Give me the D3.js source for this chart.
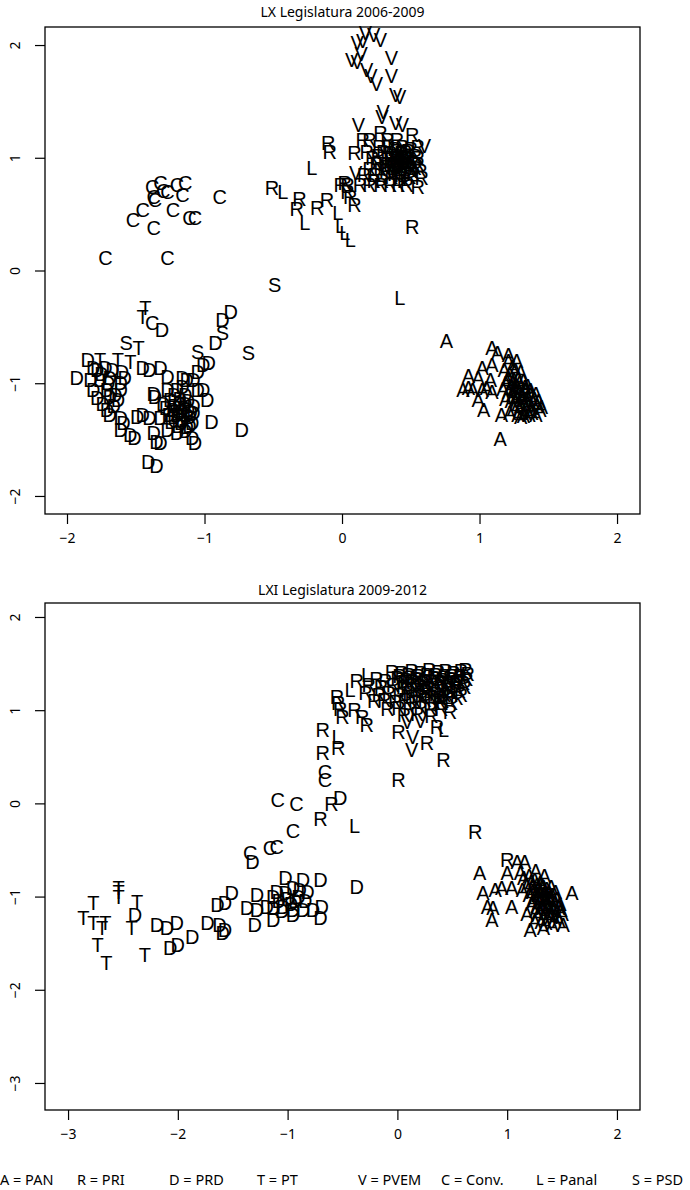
<!DOCTYPE html>
<html>
<head>
<meta charset="utf-8">
<script src="https://cdn.jsdelivr.net/npm/d3@7"></script>
<style>
    body { margin: 0; background: #fff; }
    svg { display: block; }
    .tick text { font-family: "Noto Sans", sans-serif; font-size: 14px; fill: #000; }
    .tick line { stroke: #000; stroke-width: 1.2; }
    .pt { font-family: "Liberation Sans", Arial, sans-serif; font-size: 20px; fill: #000; }
    .title { font-family: "Noto Sans", sans-serif; font-size: 14px; fill: #000; }
    .legend { font-family: "Noto Sans", sans-serif; font-size: 14.5px; fill: #000; }
</style>
</head>
<body>
<svg id="chart" width="690" height="1190"></svg>
<script>
// ---- LX Legislatura 2006-2009 (ideal points, one letter per deputy) ----
const lx_V = [[0.17,2.11],[0.15,2.04],[0.23,2.09],[0.28,2.05],[0.11,2.02],[0.14,1.92],[0.07,1.87],[0.11,1.85],
    [0.36,1.89],[0.18,1.78],[0.21,1.73],[0.36,1.73],[0.25,1.66],[0.39,1.56],[0.42,1.54],[0.30,1.41],[0.29,1.36],
    [0.12,1.29],[0.39,1.31],[0.44,1.29],[0.60,1.11],[0.10,0.87]];
const lx_R = [[-0.10,1.13],[-0.09,1.05],[-0.51,0.73],[-0.31,0.64],[-0.33,0.55],[-0.18,0.56],[-0.11,0.63],
    [-0.01,0.76],[0.02,0.78],[0.04,0.76],[0.04,0.70],[0.06,0.65],[0.09,0.58],[0.51,0.39],[0.09,1.04],
    [0.15,1.16],[0.20,1.16],[0.28,1.22],[0.33,1.16],[0.40,1.16],[0.51,1.20],[0.55,1.10],
    [0.13,0.76],[0.20,0.76],[0.28,0.76],[0.35,0.76],[0.41,0.76],[0.47,0.76],[0.55,0.74],
    [0.18,1.05],[0.22,1.00],[0.25,0.95],[0.20,0.90],[0.16,0.85],[0.24,0.85],[0.28,0.90],[0.30,1.05],[0.27,1.10],
    [0.33,1.00],[0.35,0.95],[0.32,0.88],[0.36,0.83],[0.38,1.08],[0.40,1.02],[0.42,0.97],[0.44,0.92],[0.40,0.88],
    [0.43,0.85],[0.46,1.05],[0.48,1.00],[0.47,0.95],[0.50,0.92],[0.45,0.80],[0.52,0.86],[0.55,0.95],[0.57,0.88],
    [0.53,1.02],[0.58,0.82],[0.37,0.92],[0.39,0.97],[0.41,0.93],[0.43,1.00],[0.45,0.97],[0.38,0.86],[0.34,1.10],
    [0.44,1.10],[0.50,1.08],[0.29,0.80],[0.23,0.80],[0.31,0.95],[0.26,1.02],[0.42,0.82],[0.49,0.83],[0.36,1.00],
    [0.35,1.04],[0.39,1.00],[0.43,1.04],[0.47,0.99],[0.51,0.96],[0.45,0.90],[0.49,0.89],[0.41,0.89],[0.37,0.95],
    [0.53,0.91],[0.55,1.00],[0.33,0.92],[0.46,1.01],[0.40,1.06],[0.48,1.06]];
const lx_L = [[-0.22,0.91],[-0.43,0.70],[-0.27,0.42],[-0.03,0.51],[-0.01,0.40],[0.02,0.33],[0.06,0.27],[0.42,-0.24]];
const lx_C = [[-1.38,0.74],[-1.32,0.78],[-1.30,0.71],[-1.27,0.70],[-1.20,0.76],[-1.14,0.78],[-1.16,0.67],
    [-1.36,0.63],[-1.37,0.65],[-1.45,0.54],[-1.52,0.45],[-1.23,0.54],[-1.11,0.47],[-1.07,0.47],[-1.37,0.38],
    [-0.89,0.65],[-1.72,0.11],[-1.27,0.11],[-1.38,-0.46]];
const lx_S = [[-0.49,-0.13],[-0.68,-0.73],[-0.87,-0.55],[-1.57,-0.64],[-1.05,-0.72]];
const lx_T = [[-1.43,-0.33],[-1.45,-0.41],[-1.48,-0.69],[-1.63,-0.79],[-1.54,-0.81],[-1.76,-0.79]];
const lx_D = [[-1.31,-0.53],[-0.81,-0.37],[-0.87,-0.44],[-0.92,-0.64],[-0.97,-0.82],[-1.01,-0.84],[-1.05,-0.90],
    [-1.85,-0.79],[-1.81,-0.86],[-1.72,-0.86],[-1.67,-0.88],[-1.60,-0.90],[-1.45,-0.86],[-1.40,-0.88],[-1.32,-0.86],
    [-1.27,-0.94],[-1.16,-0.95],[-1.08,-0.97],[-1.93,-0.95],[-1.83,-0.97],[-1.76,-0.97],[-1.69,-0.95],[-1.61,-1.00],
    [-1.81,-1.06],[-1.71,-1.06],[-1.61,-1.06],[-1.78,-1.13],[-1.69,-1.12],[-1.71,-1.24],[-1.69,-1.28],[-1.61,-1.31],
    [-1.59,-1.35],[-1.61,-1.41],[-1.54,-1.46],[-1.51,-1.48],[-1.45,-1.28],[-1.40,-1.31],[-1.32,-1.31],[-1.49,-1.30],
    [-1.37,-1.09],[-1.36,-1.12],[-1.27,-1.06],[-1.20,-1.06],[-1.16,-1.03],[-1.13,-0.97],[-1.05,-1.06],[-1.01,-1.06],
    [-0.98,-1.15],[-1.37,-1.44],[-1.27,-1.41],[-1.20,-1.44],[-1.13,-1.39],[-1.09,-1.35],[-1.08,-1.26],[-1.09,-1.48],
    [-1.07,-1.53],[-0.95,-1.34],[-0.73,-1.41],[-1.41,-1.70],[-1.35,-1.73],[-1.35,-1.52],[-1.32,-1.53],
    [-1.25,-1.15],[-1.22,-1.20],[-1.18,-1.18],[-1.15,-1.22],[-1.12,-1.16],[-1.10,-1.25],[-1.20,-1.28],[-1.16,-1.32],
    [-1.13,-1.28],[-1.24,-1.34],[-1.19,-1.38],[-1.14,-1.10],[-1.22,-1.10],[-1.28,-1.22],[-1.30,-1.18],[-1.08,-1.20],
    [-1.17,-1.25],[-1.11,-1.38],[-1.75,-0.92],[-1.70,-1.00],[-1.65,-1.10],[-1.74,-1.18],[-1.66,-1.20],[-1.78,-0.88],
    [-1.58,-0.95],[-1.63,-1.15],
    [-1.23,-1.24],[-1.19,-1.22],[-1.14,-1.18],[-1.11,-1.30],[-1.17,-1.35],[-1.22,-1.30],[-1.14,-1.42],[-1.26,-1.28],
    [-1.12,-1.24],[-1.18,-1.14]];
const lx_A = [[0.76,-0.62],[1.09,-0.69],[1.13,-0.73],[1.21,-0.75],[1.09,-0.84],[1.02,-0.86],[1.21,-0.80],[1.27,-0.80],
    [0.92,-0.93],[0.99,-0.95],[1.08,-0.97],[0.88,-1.06],[0.92,-1.04],[0.95,-1.06],[1.02,-1.06],[1.05,-1.04],[1.09,-1.08],
    [0.99,-1.15],[1.03,-1.24],[1.16,-1.28],[1.15,-1.49],
    [1.18,-0.88],[1.22,-0.92],[1.26,-0.88],[1.30,-0.90],[1.20,-0.98],[1.24,-1.00],[1.28,-0.96],[1.32,-0.98],[1.35,-1.02],
    [1.17,-1.05],[1.21,-1.08],[1.25,-1.05],[1.29,-1.08],[1.33,-1.06],[1.37,-1.10],[1.40,-1.14],[1.19,-1.14],[1.23,-1.16],
    [1.27,-1.12],[1.31,-1.16],[1.35,-1.18],[1.38,-1.22],[1.42,-1.20],[1.25,-1.22],[1.29,-1.24],[1.33,-1.26],[1.22,-1.26],
    [1.30,-1.30],[1.36,-1.28],[1.44,-1.24],[1.27,-1.02],[1.31,-1.12],[1.34,-1.14],[1.24,-1.10],[1.28,-1.18],
    [1.21,-0.95],[1.25,-0.97],[1.29,-1.00],[1.33,-1.03],[1.37,-1.06],[1.41,-1.09],[1.23,-1.03],[1.27,-1.07],[1.31,-1.10],
    [1.35,-1.13],[1.39,-1.17],[1.43,-1.16],[1.26,-1.15],[1.30,-1.20],[1.34,-1.22],[1.38,-1.26],[1.32,-1.29],[1.28,-1.28],
    [1.41,-1.28],[1.45,-1.21],[1.24,-0.85],[1.19,-1.00]];

// ---- LXI Legislatura 2009-2012 ----
const lxi_R = [[-0.37,1.32],[-0.55,1.14],[-0.54,1.08],[-0.52,1.02],[-0.50,0.93],[-0.68,0.79],[-0.54,0.60],[-0.68,0.54],
    [-0.39,1.00],[-0.32,0.93],[-0.28,0.84],[0.01,0.77],[0.27,0.65],[0.42,0.47],[0.01,0.25],[0.36,0.82],[0.39,1.08],
    [-0.60,0.00],[-0.70,-0.17],[0.71,-0.31],[1.00,-0.61],
    [-0.05,1.41],[0.04,1.40],[0.13,1.42],[0.21,1.40],[0.29,1.43],[0.37,1.41],[0.44,1.42],[0.51,1.40],[0.58,1.42],[0.64,1.39],
    [-0.19,1.34],[-0.11,1.32],[0.00,1.35],[0.08,1.33],[0.17,1.34],[0.25,1.32],[0.33,1.35],[0.41,1.33],[0.48,1.34],[0.56,1.32],[0.63,1.34],
    [-0.26,1.27],[-0.15,1.25],[-0.04,1.27],[0.05,1.25],[0.12,1.28],[0.21,1.26],[0.28,1.24],[0.36,1.27],[0.45,1.25],[0.53,1.27],[0.61,1.25],
    [-0.29,1.19],[-0.17,1.17],[-0.08,1.19],[0.02,1.17],[0.11,1.19],[0.19,1.17],[0.27,1.20],[0.35,1.18],[0.43,1.16],[0.50,1.19],[0.58,1.17],
    [-0.21,1.10],[-0.12,1.11],[-0.02,1.09],[0.07,1.11],[0.16,1.09],[0.25,1.11],[0.33,1.09],[0.41,1.10],[0.49,1.08],
    [-0.09,1.02],[0.01,1.03],[0.11,1.01],[0.21,1.03],[0.30,1.01],[0.40,1.02],[0.06,0.95],[0.18,0.96],[0.31,0.94],[0.48,0.98],
    [0.02,1.37],[0.10,1.38],[0.19,1.37],[0.27,1.38],[0.35,1.38],[0.43,1.37],[0.50,1.37],[0.57,1.37],[0.62,1.43],
    [0.06,1.30],[0.14,1.30],[0.23,1.29],[0.31,1.30],[0.39,1.30],[0.46,1.29],[0.54,1.30],[0.60,1.29],
    [0.09,1.22],[0.17,1.22],[0.25,1.21],[0.33,1.22],[0.41,1.21],[0.48,1.22],[0.56,1.21],
    [0.13,1.14],[0.22,1.14],[0.30,1.14],[0.38,1.13],[0.46,1.14],[0.54,1.13]];
const lxi_L = [[-0.28,1.38],[-0.43,1.22],[-0.55,0.71],[0.42,0.79],[-0.39,-0.24]];
const lxi_V = [[0.14,0.71],[0.13,0.57],[0.09,0.87],[0.21,0.89]];
const lxi_C = [[-1.09,0.04],[-0.92,0.00],[-0.95,-0.29],[-1.10,-0.47],[-1.16,-0.48],[-1.34,-0.53],[-0.66,0.34],[-0.66,0.25]];
const lxi_D = [[-0.52,0.06],[-1.32,-0.63],[-1.02,-0.80],[-0.86,-0.82],[-0.70,-0.82],[-1.51,-0.96],[-1.57,-1.07],[-1.64,-1.09],
    [-1.28,-0.98],[-1.13,-1.00],[-1.02,-0.96],[-0.95,-0.91],[-0.89,-0.93],[-0.82,-0.95],[-1.37,-1.12],[-1.28,-1.14],
    [-1.19,-1.11],[-1.13,-1.12],[-1.04,-1.11],[-0.95,-1.14],[-0.86,-1.14],[-0.77,-1.14],[-0.69,-1.11],[-1.30,-1.30],
    [-1.13,-1.25],[-0.95,-1.20],[-0.70,-1.23],[-1.73,-1.28],[-1.62,-1.30],[-1.57,-1.36],[-1.59,-1.39],[-2.19,-1.30],
    [-2.10,-1.33],[-2.01,-1.28],[-2.07,-1.55],[-2.00,-1.52],[-1.87,-1.43],[-2.39,-1.20],[-0.37,-0.90],
    [-1.08,-1.05],[-1.00,-1.02],[-0.93,-1.05],[-0.97,-1.08],[-1.05,-1.15],[-0.90,-1.00],[-1.10,-0.95],[-0.84,-1.05]];
const lxi_T = [[-2.54,-0.91],[-2.54,-0.95],[-2.54,-1.00],[-2.37,-1.06],[-2.77,-1.07],[-2.86,-1.23],[-2.77,-1.28],
    [-2.66,-1.28],[-2.69,-1.34],[-2.42,-1.34],[-2.73,-1.52],[-2.65,-1.71],[-2.30,-1.63]];
const lxi_A = [[0.75,-0.75],[1.09,-0.63],[1.16,-0.63],[1.00,-0.74],[1.12,-0.75],[0.78,-0.96],[0.89,-0.93],[0.95,-0.91],
    [1.04,-0.91],[1.14,-0.93],[0.82,-1.11],[0.87,-1.12],[1.04,-1.11],[0.86,-1.25],[1.59,-0.96],[1.21,-1.36],[1.33,-1.34],
    [1.51,-1.30],
    [1.15,-0.80],[1.20,-0.78],[1.25,-0.82],[1.30,-0.85],[1.18,-0.88],[1.23,-0.90],[1.28,-0.93],[1.33,-0.90],[1.38,-0.95],
    [1.20,-0.98],[1.25,-1.00],[1.30,-1.02],[1.35,-1.00],[1.40,-1.05],[1.45,-1.02],[1.22,-1.08],[1.27,-1.10],[1.32,-1.12],
    [1.37,-1.10],[1.42,-1.15],[1.47,-1.12],[1.50,-1.18],[1.28,-1.20],[1.33,-1.22],[1.38,-1.20],[1.43,-1.24],[1.35,-1.28],
    [1.25,-1.26],[1.40,-0.90],[1.48,-1.08],[1.18,-1.18],[1.30,-0.95],[1.36,-1.06],[1.26,-0.72],[1.34,-0.78],
    [1.22,-0.84],[1.27,-0.87],[1.32,-0.88],[1.36,-0.92],[1.41,-0.98],[1.44,-0.95],[1.23,-0.95],[1.28,-0.98],[1.33,-0.97],
    [1.38,-1.02],[1.43,-1.08],[1.49,-1.14],[1.24,-1.04],[1.29,-1.06],[1.34,-1.05],[1.39,-1.13],[1.45,-1.18],[1.30,-1.15],
    [1.35,-1.17],[1.40,-1.22],[1.47,-1.25],[1.26,-1.15],[1.31,-1.27],[1.41,-1.30]];

// ticks and legend
const lxTicksX = [-2, -1, 0, 1, 2];
const lxTicksY = [-2, -1, 0, 1, 2];
const lxiTicksX = [-3, -2, -1, 0, 1, 2];
const lxiTicksY = [-3, -2, -1, 0, 1, 2];
const partyCodes = ["A", "R", "D", "T", "V", "C", "L", "S"];
const partyNames = ["PAN", "PRI", "PRD", "PT", "PVEM", "Conv.", "Panal", "PSD"];

const svg = d3.select("#chart");
svg.append("rect").attr("width", 690).attr("height", 1190).attr("fill", "#fff");

const fmt = d3.format("d"); // gives the "−" minus sign

function drawPanel(cfg) {
    let g = svg.append("g");

    let x = d3.scaleLinear().domain(cfg.xDomain).range([45, 640]);
    let y = d3.scaleLinear().domain(cfg.yDomain).range([cfg.bottom, cfg.top]);

    // letters first, box and axes on top
    cfg.series.forEach(s => {
        g.append("g").selectAll("text")
            .data(s.data)
            .join("text")
            .attr("class", "pt")
            .attr("x", d => x(d[0]))
            .attr("y", d => y(d[1]))
            .attr("dy", "0.36em")
            .attr("text-anchor", "middle")
            .text(s.code);
    });

    g.append("rect")
        .attr("x", 45).attr("y", cfg.top)
        .attr("width", 595).attr("height", cfg.bottom - cfg.top)
        .attr("fill", "none").attr("stroke", "#000").attr("stroke-width", 1.3);

    let xAxis = g.append("g")
        .attr("transform", `translate(0, ${cfg.bottom})`)
        .call(d3.axisBottom(x).tickValues(cfg.ticksX).tickFormat(fmt).tickSize(10).tickPadding(9));
    xAxis.select(".domain").remove();

    let yAxis = g.append("g")
        .attr("transform", "translate(45, 0)")
        .call(d3.axisLeft(y).tickValues(cfg.ticksY).tickFormat(fmt).tickSize(10));
    yAxis.select(".domain").remove();
    yAxis.selectAll("text")
        .attr("transform", "rotate(-90)")
        .attr("x", 0)
        .attr("y", -25)
        .attr("dy", 0)
        .attr("text-anchor", "middle");

    g.append("text")
        .attr("class", "title")
        .attr("x", 342.5)
        .attr("y", cfg.titleY)
        .attr("text-anchor", "middle")
        .text(cfg.title);
}

drawPanel({
    title: "LX Legislatura 2006-2009",
    titleY: 17,
    top: 27, bottom: 514,
    xDomain: [-2.16, 2.167],
    yDomain: [-2.16, 2.16],
    ticksX: lxTicksX, ticksY: lxTicksY,
    series: [
        { code: "V", data: lx_V }, { code: "R", data: lx_R }, { code: "L", data: lx_L },
        { code: "C", data: lx_C }, { code: "S", data: lx_S }, { code: "T", data: lx_T },
        { code: "D", data: lx_D }, { code: "A", data: lx_A }
    ]
});

drawPanel({
    title: "LXI Legislatura 2009-2012",
    titleY: 595,
    top: 603, bottom: 1110,
    xDomain: [-3.21, 2.21],
    yDomain: [-3.29, 2.15],
    ticksX: lxiTicksX, ticksY: lxiTicksY,
    series: [
        { code: "R", data: lxi_R }, { code: "L", data: lxi_L }, { code: "V", data: lxi_V },
        { code: "C", data: lxi_C }, { code: "D", data: lxi_D }, { code: "T", data: lxi_T },
        { code: "A", data: lxi_A }
    ]
});

// legend line along the bottom
const legendX = [0, 77, 169, 257, 358, 441, 536, 632];
svg.append("g").selectAll("text")
    .data(partyCodes)
    .join("text")
    .attr("class", "legend")
    .attr("x", (d, i) => legendX[i])
    .attr("y", 1185)
    .text((d, i) => `${d} = ${partyNames[i]}`);
</script>
</body>
</html>
